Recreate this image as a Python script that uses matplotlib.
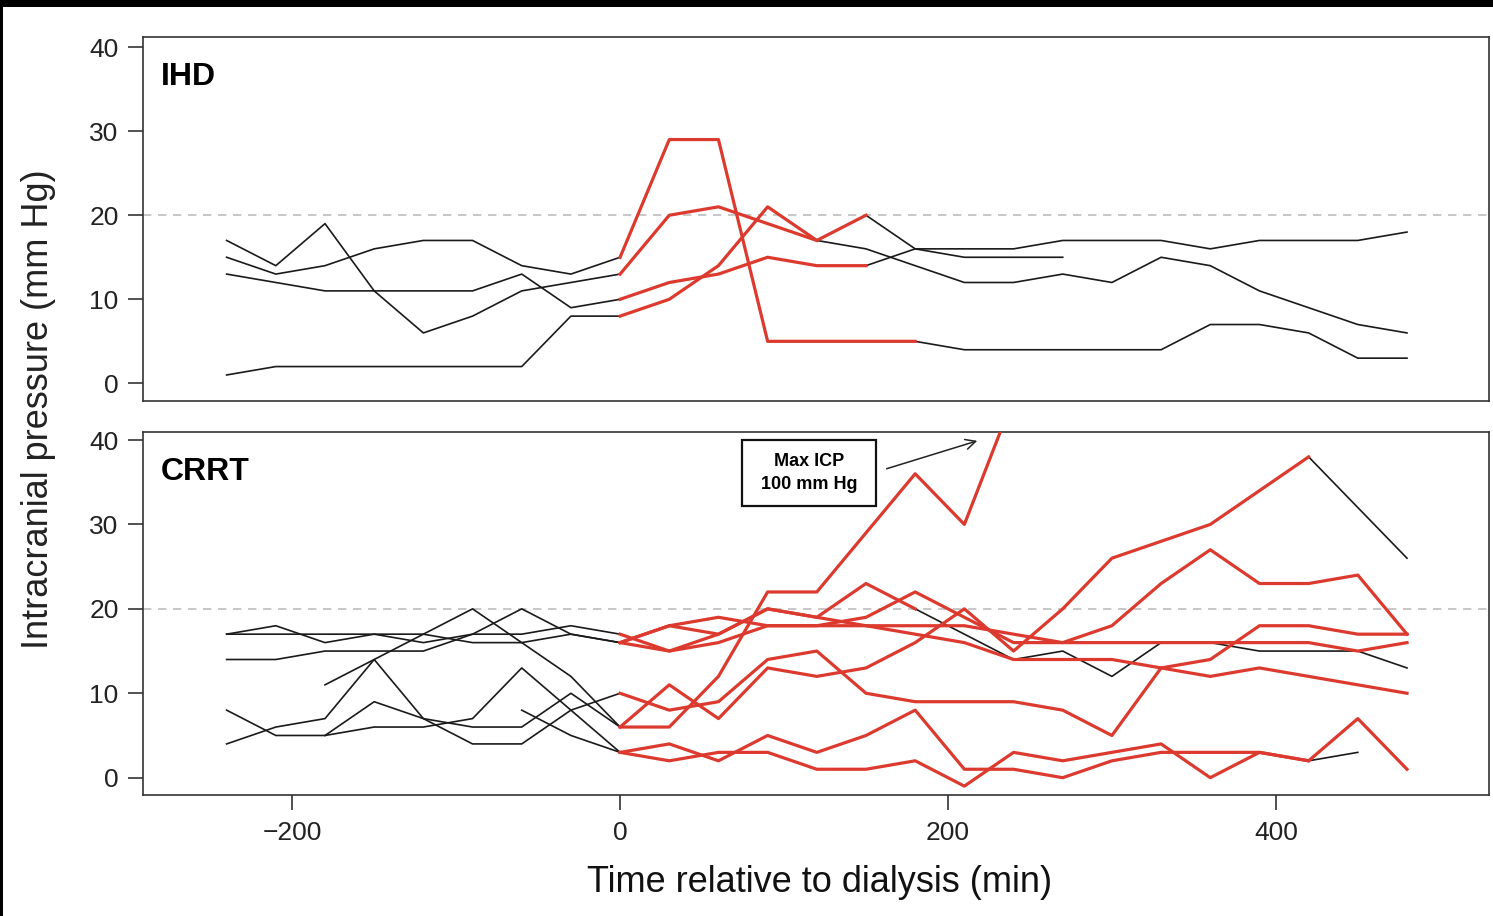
import numpy as np
import matplotlib.pyplot as plt
from matplotlib.patches import Rectangle

plt.rcParams['font.family'] = ['Liberation Sans', 'DejaVu Sans']

nan = np.nan
times = np.arange(-240, 481, 30)

# IHD patients: ICP every 30 min, red while on dialysis (0 .. red end)
ihd_p1 = [17, 14, 19, 11, 6, 8, 11, 12, 13, 20, 21, 19, 17, 16, 14, 12, 12, 13, 12, 15, 14, 11, 9, 7, 6]
ihd_p2 = [15, 13, 14, 16, 17, 17, 14, 13, 15, 29, 29, 5, 5, 5, 5, 4, 4, 4, 4, 4, 7, 7, 6, 3, 3]
ihd_p3 = [13, 12, 11, 11, 11, 11, 13, 9, 10, 12, 13, 15, 14, 14, 16, 15, 15, 15, nan, nan, nan, nan, nan, nan, nan]
ihd_p4 = [1, 2, 2, 2, 2, 2, 2, 8, 8, 10, 14, 21, 17, 20, 16, 16, 16, 17, 17, 17, 16, 17, 17, 17, 18]
ihd_series = [ihd_p1, ihd_p2, ihd_p3, ihd_p4]
ihd_red_end = [120, 180, 150, 150]

# CRRT patients
crrt_a = [17, 18, 16, 17, 16, 17, 17, 18, 17, 15, 16, 18, 18, 19, 22, 19, 16, 16, 18, 23, 27, 23, 23, 24, 17]
crrt_c = [17, 17, 17, 17, 17, 16, 16, 17, 16, 18, 19, 18, 18, 18, 18, 18, 17, 16, 16, 16, 16, 16, 16, 15, 16]
crrt_d = [14, 14, 15, 15, 15, 17, 20, 17, 16, 15, 17, 20, 19, 18, 17, 16, 14, 14, 14, 13, 12, 13, 12, 11, 10]
crrt_b = [8, 5, 5, 6, 6, 7, 13, 8, 10, 8, 9, 14, 15, 10, 9, 9, 9, 8, 5, 13, 14, 18, 18, 17, 17]
crrt_f = [nan, nan, 11, 14, 17, 20, 16, 12, 6, 11, 7, 13, 12, 13, 16, 20, 15, 20, 26, 28, 30, 34, 38, 32, 26]
crrt_l = [nan, nan, 5, 9, 7, 6, 6, 10, 6, 6, 12, 22, 22, 29, 36, 30, 45, 100, nan, nan, nan, nan, nan, nan, nan]
crrt_g = [nan, nan, nan, nan, nan, nan, nan, nan, 16, 18, 17, 20, 19, 23, 20, 17, 14, 15, 12, 16, 16, 15, 15, 15, 13]
crrt_h = [nan, nan, nan, nan, nan, nan, 8, 5, 3, 4, 2, 5, 3, 5, 8, 1, 1, 0, 2, 3, 3, 3, 2, 3, nan]
crrt_e = [4, 6, 7, 14, 7, 4, 4, 8, 3, 2, 3, 3, 1, 1, 2, -1, 3, 2, 3, 4, 0, 3, 2, 7, 1]
crrt_series = [crrt_a, crrt_c, crrt_d, crrt_b, crrt_f, crrt_l, crrt_g, crrt_h, crrt_e]
crrt_red_end = [480, 480, 480, 480, 420, 270, 180, 420, 480]

RED = '#dc3a2e'


def draw_panel(ax, series, red_ends, label):
    ax.axhline(20, color='#bdbdbd', lw=1.2, dashes=(5, 4), zorder=1)
    for vals, end in zip(series, red_ends):
        v = np.array(vals, dtype=float)
        pre = np.where(times <= 0, v, nan)
        on = np.where((times >= 0) & (times <= end), v, nan)
        post = np.where(times >= end, v, nan)
        ax.plot(times, pre, color='#1a1a1a', lw=1.2, zorder=2)
        ax.plot(times, post, color='#1a1a1a', lw=1.2, zorder=2)
        ax.plot(times, on, color=RED, lw=2.3, zorder=3)
    ax.text(0.013, 0.93, label, transform=ax.transAxes, fontsize=23,
            fontweight='bold', ha='left', va='top')
    ax.set_xlim(-291, 530)
    ax.set_yticks([0, 10, 20, 30, 40])
    ax.tick_params(axis='y', direction='out', length=10.5, width=1.1,
                   labelsize=19, pad=7, colors='#222222')
    for s in ax.spines.values():
        s.set_linewidth(1.2)
        s.set_color('#333333')


fig = plt.figure(figsize=(14.93, 9.16), dpi=100, facecolor='black')
fig.add_artist(Rectangle((3 / 1493, 0), 1, 1 - 7 / 916, transform=fig.transFigure,
                         fc='white', ec='none', zorder=-10))

ax1 = fig.add_axes([0.0958, 0.5622, 0.9015, 0.3974])
ax2 = fig.add_axes([0.0958, 0.1321, 0.9015, 0.3963])

draw_panel(ax1, ihd_series, ihd_red_end, 'IHD')
ax1.set_ylim(-2.1, 41.2)
ax1.tick_params(axis='x', bottom=False, labelbottom=False)

draw_panel(ax2, crrt_series, crrt_red_end, 'CRRT')
ax2.set_ylim(-2.05, 40.95)
ax2.set_xticks([-200, 0, 200, 400])
ax2.tick_params(axis='x', direction='out', length=10.5, width=1.1,
                labelsize=19, pad=8, colors='#222222')

# annotation for the off-scale value
ax2.add_patch(Rectangle((74.4, 32.2), 81.7, 7.8, fc='white', ec='#111111',
                        lw=1.6, zorder=5, clip_on=False))
ax2.text(115.2, 36.1, 'Max ICP\n100 mm Hg', ha='center', va='center',
         fontsize=13, fontweight='bold', linespacing=1.45, zorder=6)
ax2.annotate('', xy=(219.5, 40.0), xytext=(161, 36.5),
             arrowprops=dict(arrowstyle='->', color='#222222', lw=1.1,
                             mutation_scale=18), zorder=6)

fig.text(0.026, 0.553, 'Intracranial pressure (mm Hg)', rotation=90,
         ha='center', va='center', fontsize=26, color='#222222')
fig.text(0.549, 0.037, 'Time relative to dialysis (min)', ha='center',
         va='center', fontsize=26, color='#111111')

fig.savefig('out.png', dpi=100, facecolor=fig.get_facecolor())
